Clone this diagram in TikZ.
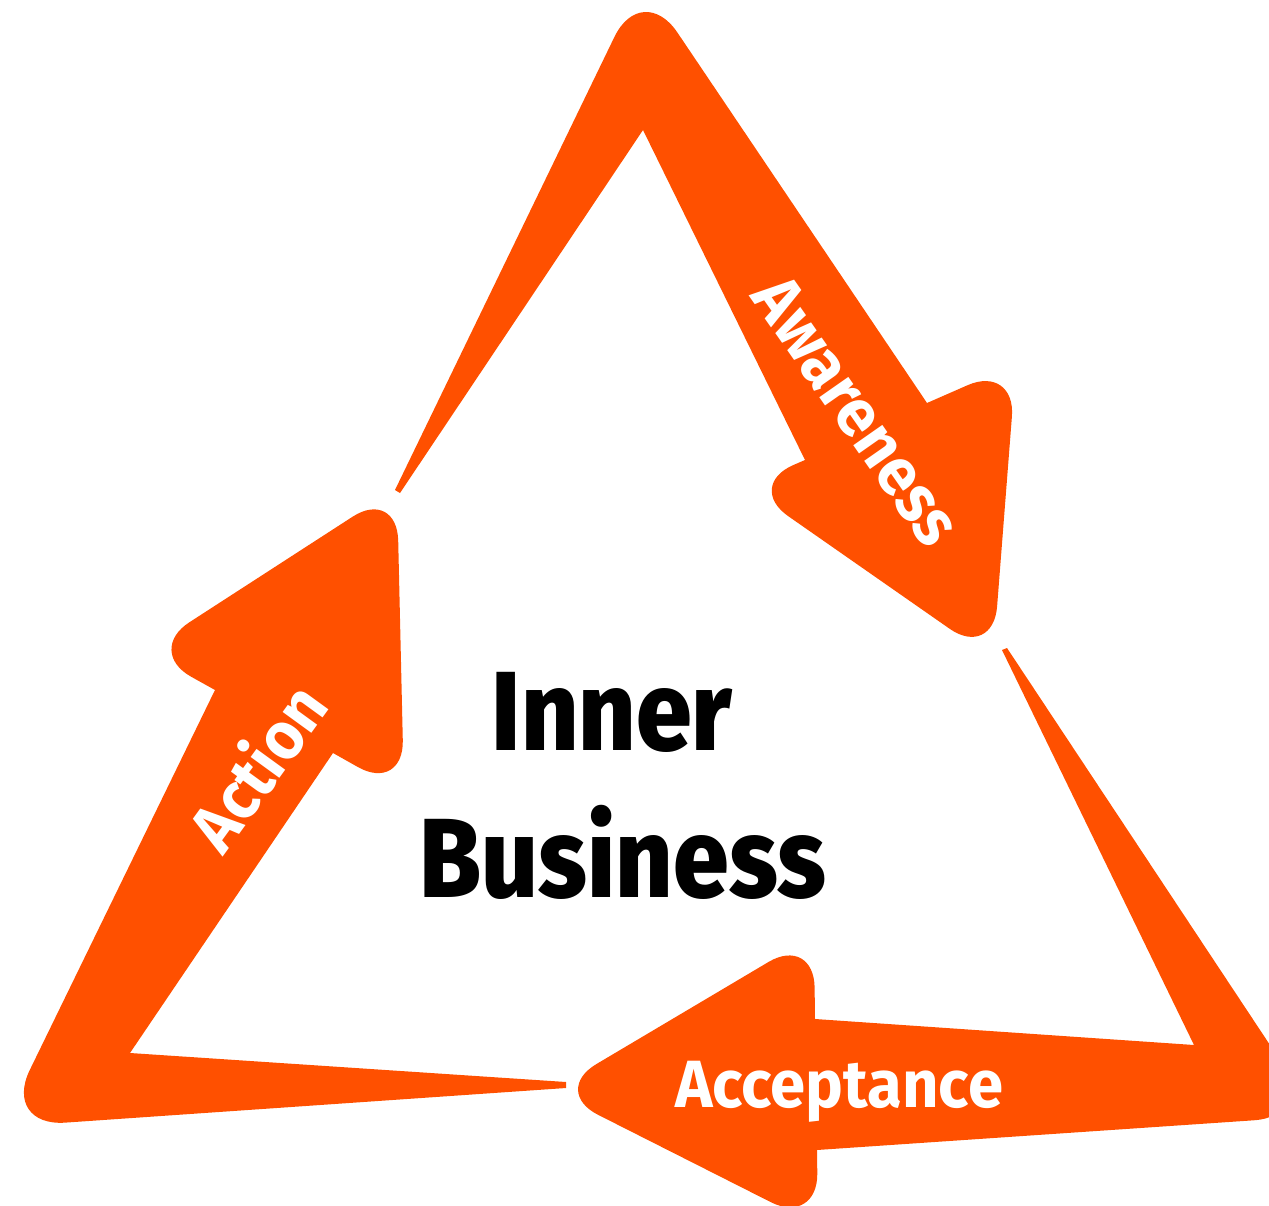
\documentclass[tikz,border=0pt]{standalone}
\usepackage{fontspec}
\setmainfont{Fira Sans}
\newfontfamily\condfont{Fira Sans}[FakeStretch=0.89,BoldFont={Fira Sans ExtraBold}]
\newfontfamily\labelfont{Fira Sans}[FakeStretch=0.95]
\definecolor{cycleorange}{RGB}{255,80,0}

\begin{document}
\begin{tikzpicture}[x=0.01cm,y=-0.01cm,inner sep=0pt,outer sep=0pt,
arrowbody/.style={fill=cycleorange},
lbl/.style={text=white,font=\labelfont\fontsize{19}{19}\selectfont\bfseries},
bigtext/.style={text=black,font=\condfont\fontsize{32}{32}\selectfont\bfseries}]
\useasboundingbox (0,0) rectangle (1269,1206);
\clip (0,0) rectangle (1269,1206);
\fill[arrowbody] (395,490) [rounded corners=18pt] -- (642,-20) [sharp corners] -- (927,403) [rounded corners=15pt] -- (1016,364) -- (993,659) -- (745,486) [sharp corners] -- (805,460) -- (643,130) -- (400,493) -- cycle;
\fill[arrowbody] (1007,648) [rounded corners=18pt] -- (1317,1116) [sharp corners] -- (817,1150) [rounded corners=15pt] -- (818,1226) -- (551,1091) -- (814,935) [sharp corners] -- (815,1019) -- (1194,1045) -- (1002,650) -- cycle;
\fill[arrowbody] (566,1088) [rounded corners=18pt] -- (2,1127) [sharp corners] -- (215,690) [rounded corners=15pt] -- (145,651) -- (397,488) -- (404,793) [sharp corners] -- (333,753) -- (130,1053) -- (566,1082) -- cycle;
\node[lbl,rotate=-55] (aware) at (857,411) {Awareness};
\node[lbl,anchor=base] (accept) at (839,1107) {Acceptance};
\node[lbl,rotate=54] (act) at (256,766) {Action};
\node[bigtext,anchor=base] (inner) at (612,750) {Inner};
\node[bigtext,anchor=base] (business) at (623,897) {Business};
\end{tikzpicture}
\end{document}
